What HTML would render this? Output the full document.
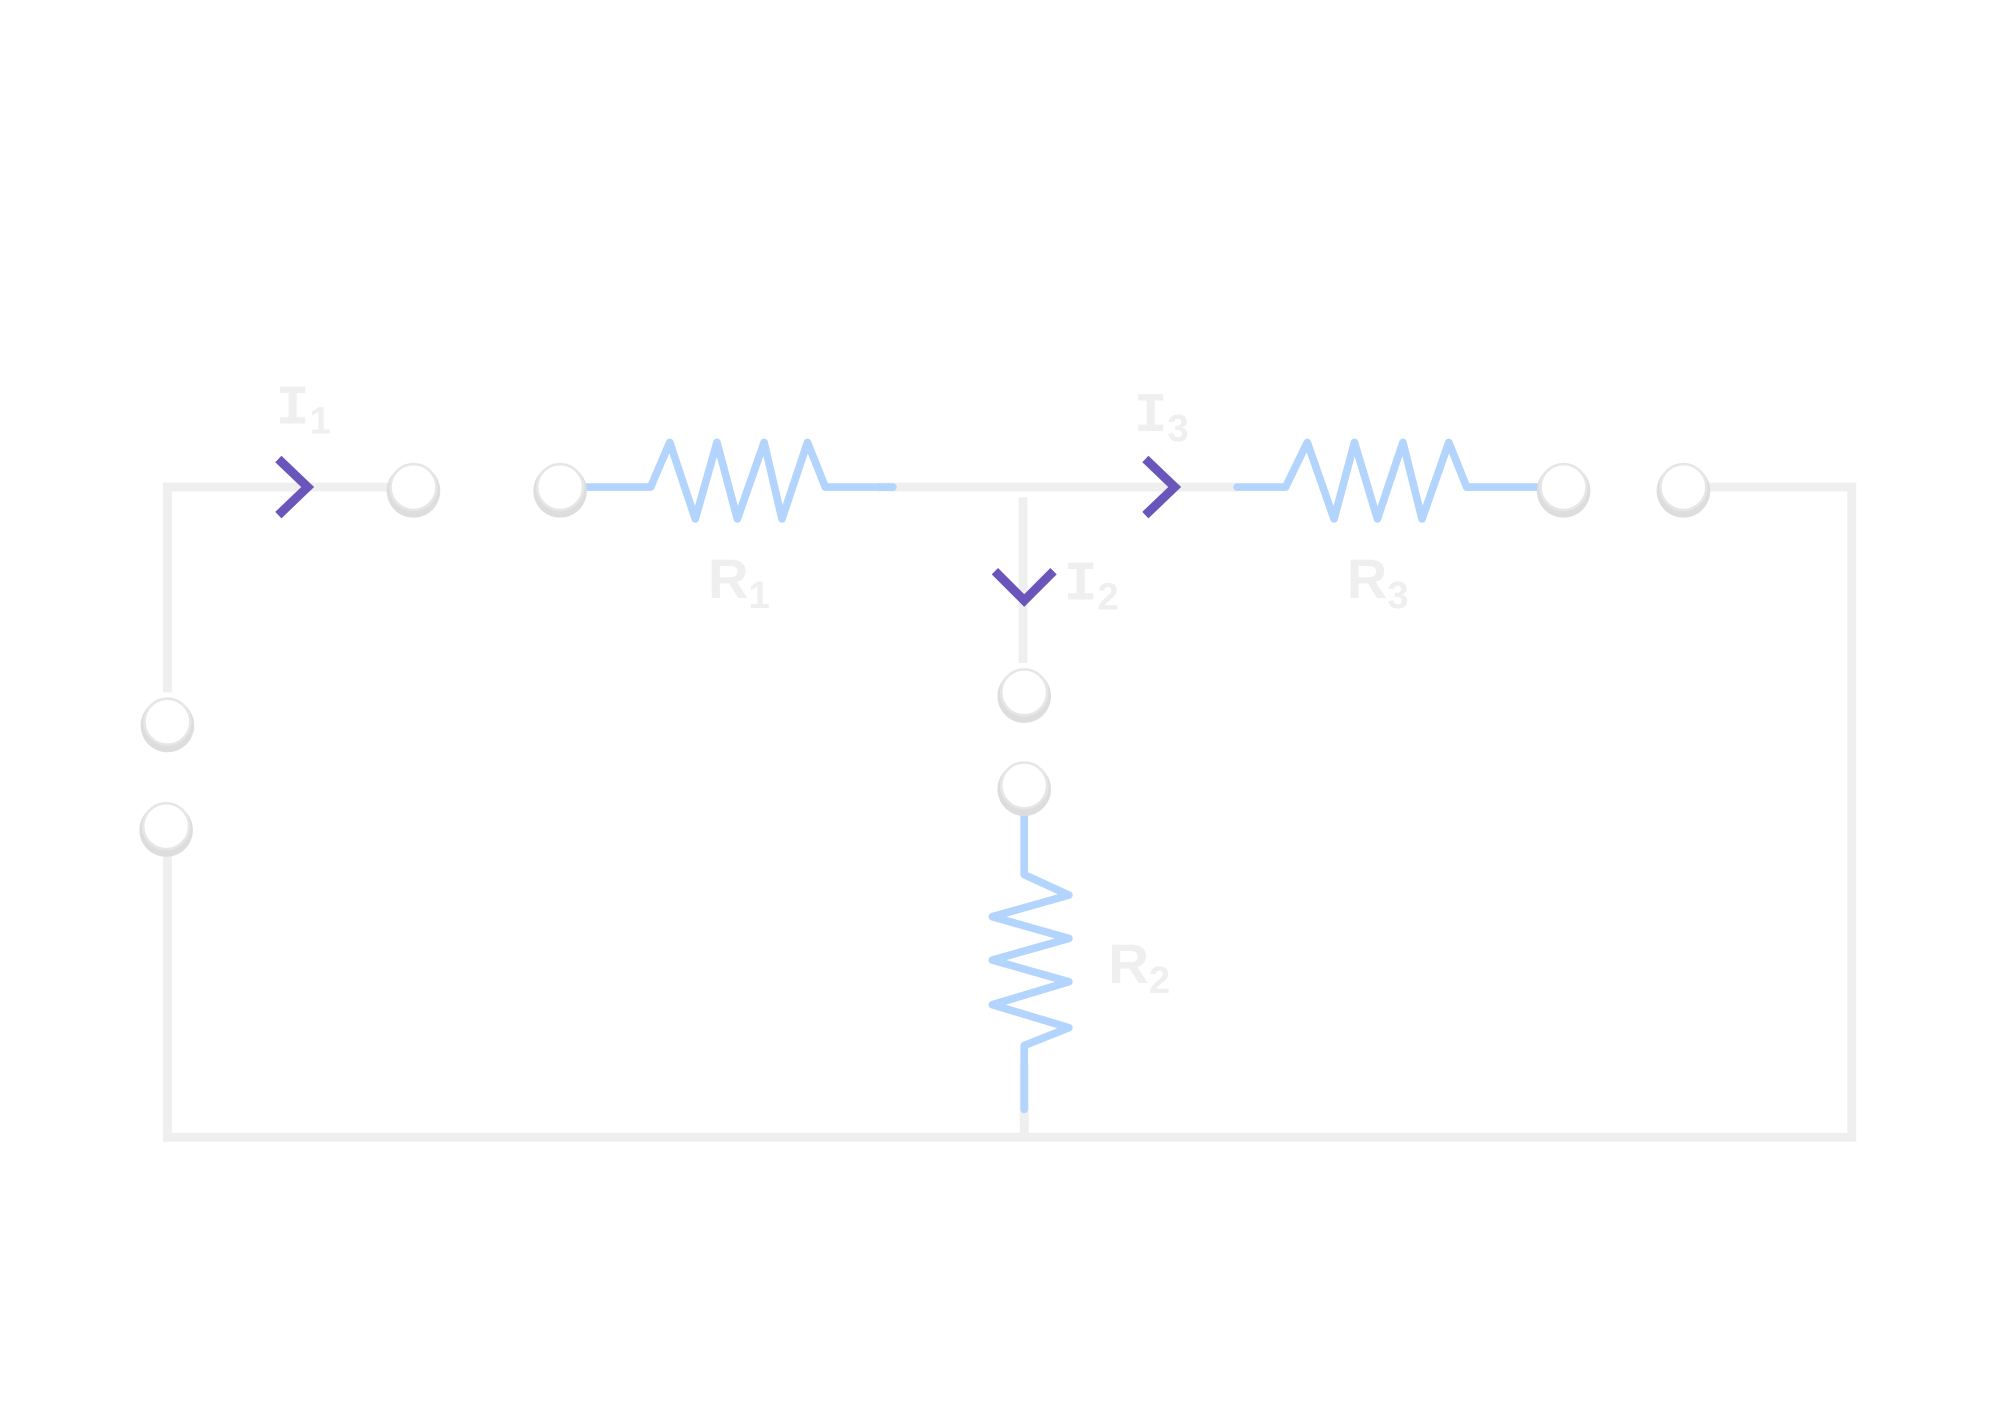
<!DOCTYPE html>
<html><head><meta charset="utf-8"><style>
html,body{margin:0;padding:0;background:#fff}
svg{display:block}
text{font-family:"Liberation Sans",sans-serif;font-weight:bold;fill:#efefef}
</style></head><body>
<svg width="2000" height="1414" viewBox="0 0 1568 1109" xmlns="http://www.w3.org/2000/svg">
<g stroke="#efefef" stroke-width="7" fill="none" stroke-linecap="butt">
  <polyline points="131,543 131,382 305,382"/>
  <polyline points="131,670 131,892 1452,892 1452,382 1340,382"/>
  <line x1="688" y1="382" x2="970" y2="382"/>
  <line x1="802" y1="390" x2="802" y2="520"/>
  <line x1="803" y1="835" x2="803" y2="892"/>
</g>
<g stroke="#b3d4fc" stroke-width="6" fill="none" stroke-linejoin="round" stroke-linecap="round">
  <polyline points="460,382 510,382 525,347 545,407 562,347 578,407 599,347 613,407 633,347 647,382 700,382"/>
  <polyline points="970,382 1008,382 1025,347 1046,407 1062,347 1080,407 1100,347 1115,407 1136,347 1150,382 1205,382"/>
  <polyline points="803,636 803,686 838,702 778,719 838,736 778,753 838,770 778,788 838,806 803,820 803,870"/>
</g>
<g>
  <g><circle cx="324" cy="385" r="21" fill="#ddd"/><circle cx="324" cy="382" r="18" fill="#fff" stroke="#e6e6e6" stroke-width="2"/></g>
  <g><circle cx="439" cy="385" r="21" fill="#ddd"/><circle cx="439" cy="382" r="18" fill="#fff" stroke="#e6e6e6" stroke-width="2"/></g>
  <g><circle cx="1226" cy="385" r="21" fill="#ddd"/><circle cx="1226" cy="382" r="18" fill="#fff" stroke="#e6e6e6" stroke-width="2"/></g>
  <g><circle cx="1320" cy="385" r="21" fill="#ddd"/><circle cx="1320" cy="382" r="18" fill="#fff" stroke="#e6e6e6" stroke-width="2"/></g>
  <g><circle cx="803" cy="546" r="21" fill="#ddd"/><circle cx="803" cy="543" r="18" fill="#fff" stroke="#e6e6e6" stroke-width="2"/></g>
  <g><circle cx="803" cy="619" r="21" fill="#ddd"/><circle cx="803" cy="616" r="18" fill="#fff" stroke="#e6e6e6" stroke-width="2"/></g>
  <g><circle cx="131" cy="569" r="21" fill="#ddd"/><circle cx="131" cy="566" r="18" fill="#fff" stroke="#e6e6e6" stroke-width="2"/></g>
  <g><circle cx="130" cy="651" r="21" fill="#ddd"/><circle cx="130" cy="648" r="18" fill="#fff" stroke="#e6e6e6" stroke-width="2"/></g>
</g>
<g stroke="#6a55bb" stroke-width="7" fill="none" stroke-linejoin="miter">
  <polyline points="218,360 241,382 218,404"/>
  <polyline points="898,360 921,382 898,404"/>
  <polyline points="780,448 803,471 826,448"/>
</g>
<g font-size="44">
  <text x="216" y="332"><tspan font-family="Liberation Mono">I</tspan><tspan font-size="30" dy="8">1</tspan></text>
  <text x="889" y="338"><tspan font-family="Liberation Mono">I</tspan><tspan font-size="30" dy="8">3</tspan></text>
  <text x="834" y="470"><tspan font-family="Liberation Mono">I</tspan><tspan font-size="30" dy="8">2</tspan></text>
  <text x="555" y="469">R<tspan font-size="30" dy="8">1</tspan></text>
  <text x="1056" y="469">R<tspan font-size="30" dy="8">3</tspan></text>
  <text x="869" y="771">R<tspan font-size="30" dy="8">2</tspan></text>
</g>
</svg>
</body></html>
